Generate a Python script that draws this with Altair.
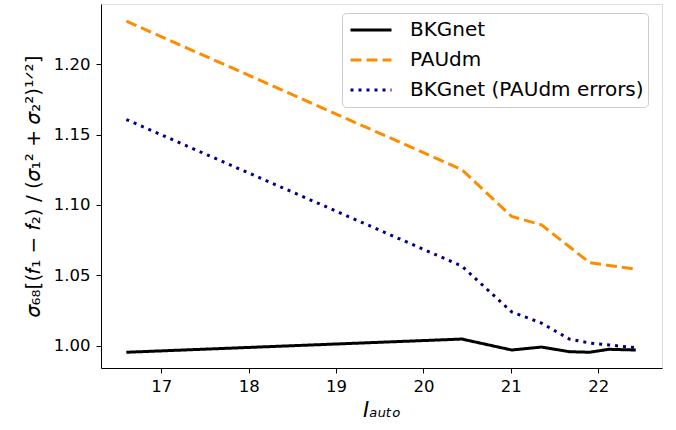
import altair as alt
import pandas as pd

x_vals = [16.60, 20.44, 21.01, 21.35, 21.67, 21.90, 22.12, 22.43]
bkgnet = [0.9952, 1.0046, 0.9968, 0.9989, 0.9956, 0.9952, 0.9973, 0.9968]
paudm = [1.2308, 1.1251, 1.0918, 1.0859, 1.0703, 1.0590, 1.0570, 1.0543]
bkgnet_paudm_err = [1.1608, 1.0565, 1.0239, 1.0160, 1.0046, 1.0018, 1.0004, 0.9984]

series_names = ["BKGnet", "PAUdm", "BKGnet (PAUdm errors)"]
series_vals = [bkgnet, paudm, bkgnet_paudm_err]
x_ticks = [17, 18, 19, 20, 21, 22]
y_ticks = [1.00, 1.05, 1.10, 1.15, 1.20]

rows = []
for name, vals in zip(series_names, series_vals):
    for xv, yv in zip(x_vals, vals):
        rows.append({"x": xv, "y": yv, "series": name})
df = pd.DataFrame(rows)

font = "DejaVu Sans"

legend_opts = dict(
    title=None, orient="none", legendX=241, legendY=9,
    symbolType="stroke", symbolSize=1681, symbolStrokeWidth=3,
    symbolOffset=3, clipHeight=26, rowPadding=4, padding=4,
    labelFontSize=20, labelFont=font, labelColor="black", labelLimit=400,
    labelOffset=17, fillColor="white", strokeColor="#cccccc", cornerRadius=4,
)

chart = alt.Chart(df).mark_line(strokeWidth=3, strokeCap="butt", clip=True).encode(
    x=alt.X("x:Q", scale=alt.Scale(domain=[16.31, 22.73], nice=False, zero=False),
            axis=alt.Axis(values=x_ticks, title="Iₐᵤₜₒ", format="d", grid=False,
                          tickSize=5, tickColor="black", domainColor="black",
                          labelFontSize=16.5, titleFontSize=21, labelPadding=5,
                          titlePadding=5, labelColor="black", titleColor="black",
                          titleFontWeight="normal", titleFontStyle="italic",
                          labelFont=font, titleFont=font)),
    y=alt.Y("y:Q", scale=alt.Scale(domain=[0.984, 1.243], nice=False, zero=False),
            axis=alt.Axis(values=y_ticks, format=".2f", grid=False,
                          title="𝜎₆₈[(𝑓₁ − 𝑓₂) / (𝜎₁² + 𝜎₂²)¹ᐟ²]",
                          tickSize=5, tickColor="black", domainColor="black",
                          labelFontSize=16.5, titleFontSize=20, labelPadding=6,
                          titlePadding=10, labelColor="black", titleColor="black",
                          titleFontWeight="normal", labelFont=font, titleFont=font)),
    color=alt.Color("series:N",
                    scale=alt.Scale(domain=series_names, range=["black", "#ff8c00", "#000080"]),
                    legend=alt.Legend(**legend_opts)),
    strokeDash=alt.StrokeDash("series:N",
                              scale=alt.Scale(domain=series_names, range=[[1, 0], [11, 5], [3, 5]]),
                              legend=alt.Legend(**legend_opts)),
).properties(
    width=561, height=364,
    autosize=alt.AutoSizeParams(type="none"),
    padding={"left": 101, "top": 4, "right": 14, "bottom": 62},
).configure_view(stroke="black", strokeWidth=1.2).configure(background="white")

chart.save("out.html", embed_options={"renderer": "svg", "actions": False})
